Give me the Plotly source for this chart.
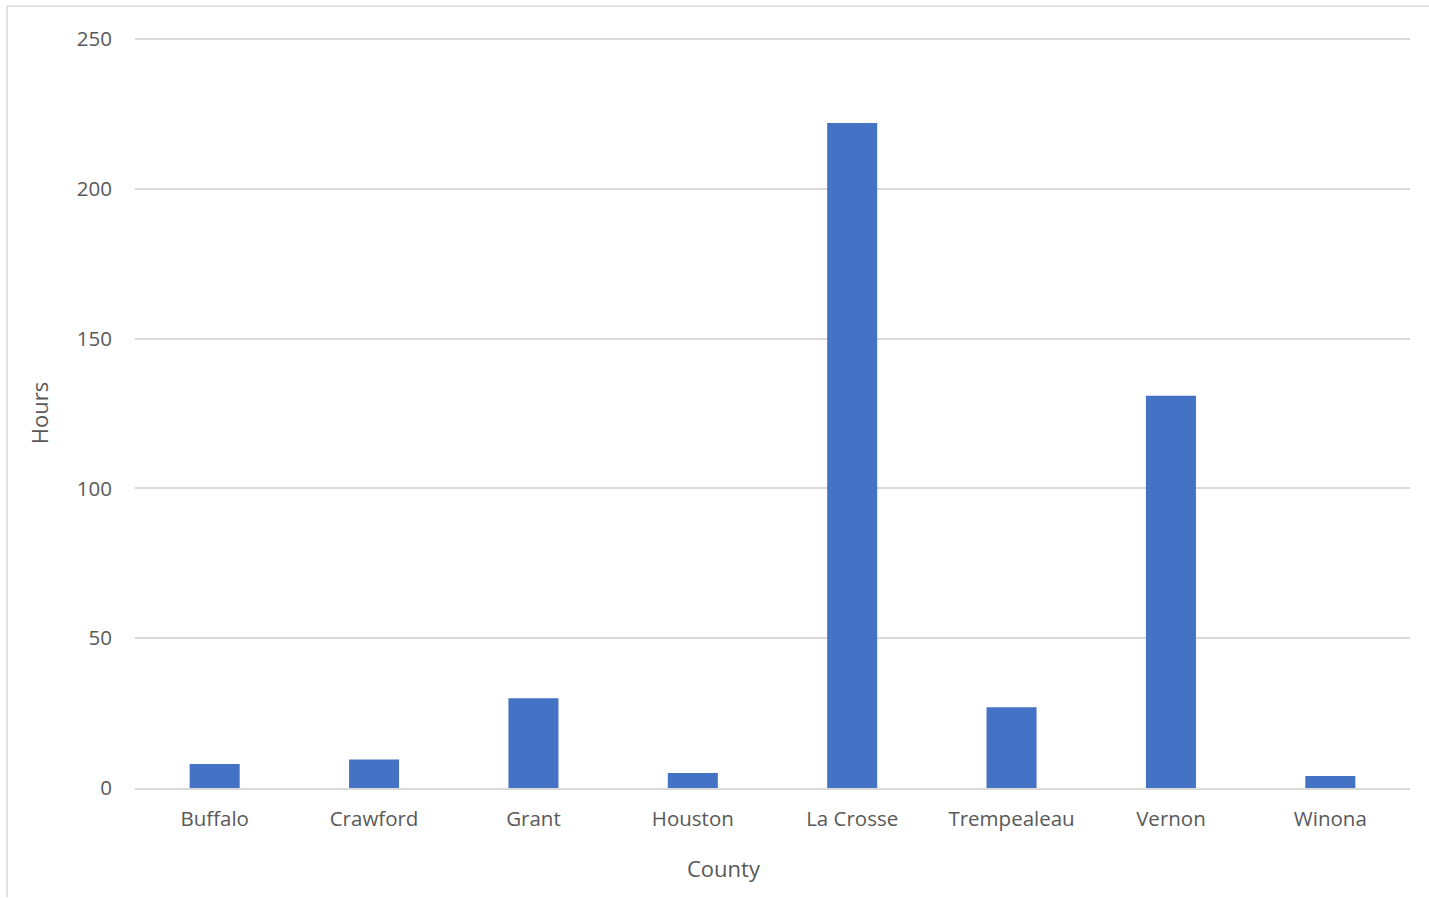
import plotly.graph_objects as go

counties = ["Buffalo", "Crawford", "Grant", "Houston", "La Crosse", "Trempealeau", "Vernon", "Winona"]
hours = [8, 9.5, 30, 5, 222, 27, 131, 4]
y_ticks = [0, 50, 100, 150, 200, 250]

FONT = "'Open Sans', sans-serif"
TXT = "#595959"
GRID = "#D9D9D9"

fig = go.Figure(
    go.Bar(
        x=counties,
        y=hours,
        marker=dict(color="#4472C4", line=dict(width=0)),
    )
)

fig.update_layout(
    width=1429,
    height=898,
    margin=dict(l=135, r=19, t=38, b=110),
    paper_bgcolor="white",
    plot_bgcolor="white",
    bargap=0.686,
    showlegend=False,
    font=dict(family=FONT, color=TXT, size=20),
    xaxis=dict(
        tickfont=dict(size=20.5, color=TXT),
        showgrid=False,
        showline=True,
        linecolor=GRID,
        linewidth=2,
        ticks="",
        ticklabelstandoff=11,
    ),
    yaxis=dict(
        title=dict(text="Hours", font=dict(size=22, color=TXT), standoff=22),
        range=[0, 250.4],
        tickvals=y_ticks,
        tickfont=dict(size=20.5, color=TXT),
        showgrid=True,
        gridcolor=GRID,
        gridwidth=1.5,
        zeroline=False,
        showline=False,
        ticks="",
        ticklabelstandoff=22,
    ),
    annotations=[
        dict(text="County", xref="paper", yref="paper",
             x=(724 - 135) / 1275, y=-(868 - 788) / 750,
             xanchor="center", yanchor="middle", showarrow=False,
             font=dict(size=22, color=TXT, family=FONT)),
    ],
    shapes=[
        dict(type="line", xref="paper", yref="paper",
             x0=-128 / 1275, x1=1.1, y0=1 + 32 / 750, y1=1 + 32 / 750,
             line=dict(color=GRID, width=1.5)),
        dict(type="line", xref="paper", yref="paper",
             x0=-128 / 1275, x1=-128 / 1275, y0=1 + 32 / 750, y1=-109 / 750,
             line=dict(color=GRID, width=1.5)),
    ],
)

fig.write_html("out.html")
